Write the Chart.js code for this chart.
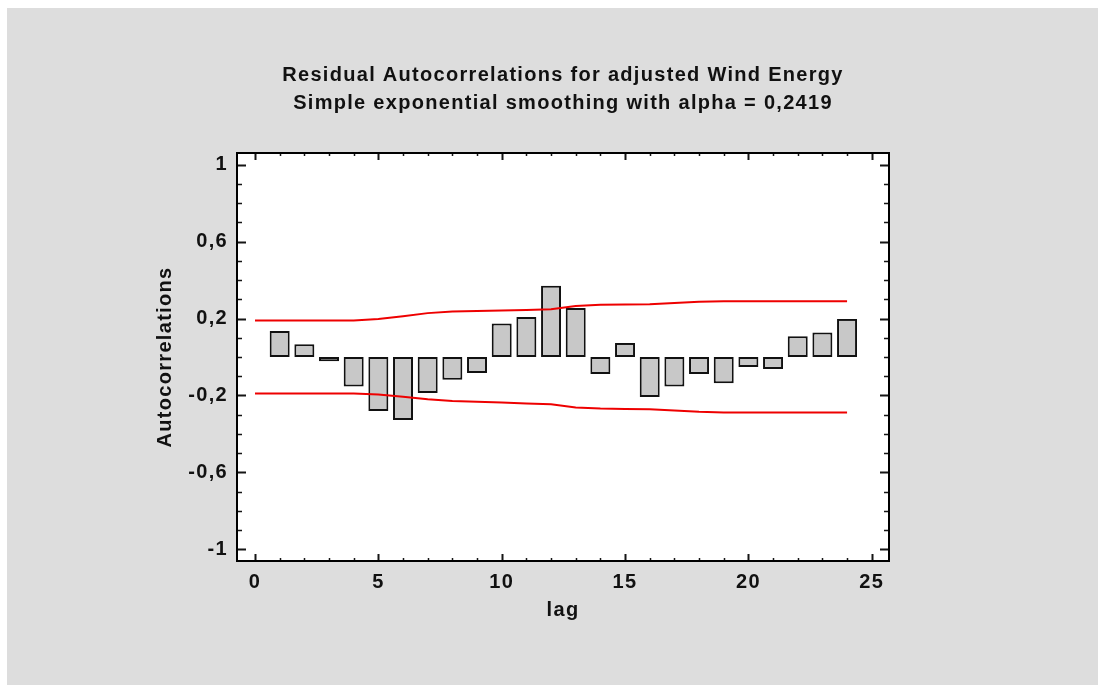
<!DOCTYPE html>
<html>
<head>
<meta charset="utf-8">
<script src="https://cdn.jsdelivr.net/npm/chart.js@4.4.0/dist/chart.umd.min.js"></script>
<style>
    html, body { margin: 0; padding: 0; background: #fff; }
    #panel { position: absolute; left: 7px; top: 8px; width: 1091px; height: 677px; background: #dddddd; }
    #chart { position: absolute; left: 0; top: 0; }
</style>
</head>
<body>
<div id="panel"></div>
<canvas id="chart" width="1105" height="692"></canvas>
<script>
// data
const lags = [1, 2, 3, 4, 5, 6, 7, 8, 9, 10, 11, 12, 13, 14, 15, 16, 17, 18, 19, 20, 21, 22, 23, 24];
const autocorr = [0.135, 0.066, -0.022, -0.153, -0.28, -0.328, -0.187, -0.118, -0.083, 0.174, 0.208, 0.37,
    0.255, -0.088, 0.073, -0.208, -0.153, -0.088, -0.137, -0.052, -0.062, 0.108, 0.127, 0.198];

const limitLags = [0, 1, 2, 3, 4, 5, 6, 7, 8, 9, 10, 11, 12, 13, 14, 15, 16, 17, 18, 19, 20, 21, 22, 23, 24];
const upperLimit = [0.19, 0.19, 0.19, 0.19, 0.19, 0.197, 0.212, 0.228, 0.237, 0.239, 0.241, 0.244, 0.248,
    0.265, 0.272, 0.273, 0.274, 0.281, 0.287, 0.29, 0.29, 0.29, 0.29, 0.29, 0.29];
const lowerLimit = [-0.19, -0.19, -0.19, -0.19, -0.19, -0.195, -0.207, -0.22, -0.228, -0.233, -0.237, -0.242, -0.246,
    -0.262, -0.268, -0.27, -0.271, -0.278, -0.285, -0.288, -0.288, -0.288, -0.288, -0.288, -0.288];

const xTicks = [0, 5, 10, 15, 20, 25];
const yTicks = [-1, -0.6, -0.2, 0.2, 0.6, 1];

const titleLines = ['Residual Autocorrelations for adjusted Wind Energy', 'Simple exponential smoothing with alpha = 0,2419'];

const fontFam = '"Liberation Sans", Arial, sans-serif';
const boldFont = { family: fontFam, size: 20, weight: 'bold' };

const toXY = (xs, ys) => xs.map((v, i) => ({ x: v, y: ys[i] }));

// the original text is a little spaced out
const spacingPlugin = {
    id: 'spacing',
    beforeLayout(chart) { chart.ctx.letterSpacing = '1.3px'; },
    beforeDraw(chart) { chart.ctx.letterSpacing = '1.3px'; }
};

// white plot area, frame and inward ticks
const framePlugin = {
    id: 'frame',
    beforeDraw(chart) {
        const { ctx, chartArea: a } = chart;
        ctx.save();
        ctx.fillStyle = '#fff';
        ctx.fillRect(a.left, a.top, a.right - a.left, a.bottom - a.top);
        ctx.restore();
    },
    afterDatasetsDraw(chart) {
        const { ctx, chartArea: a } = chart;
        const x = chart.scales.x, y = chart.scales.y;
        ctx.save();
        ctx.strokeStyle = '#151515';
        for (let v = -10; v <= 10; v++) {
            const py = Math.round(y.getPixelForValue(v / 10)) + 0.5;
            const major = (v + 10) % 4 === 0;
            const len = major ? 9 : 5;
            ctx.lineWidth = major ? 2 : 1.5;
            ctx.beginPath();
            ctx.moveTo(a.left, py); ctx.lineTo(a.left + len, py);
            ctx.moveTo(a.right, py); ctx.lineTo(a.right - len, py);
            ctx.stroke();
        }
        for (let v = 0; v <= 25; v++) {
            const px = Math.round(x.getPixelForValue(v)) + 0.5;
            const major = v % 5 === 0;
            const len = major ? 7 : 3;
            ctx.lineWidth = major ? 2 : 1.5;
            ctx.beginPath();
            ctx.moveTo(px, a.bottom); ctx.lineTo(px, a.bottom - len);
            ctx.moveTo(px, a.top); ctx.lineTo(px, a.top + len);
            ctx.stroke();
        }
        ctx.lineWidth = 2;
        ctx.strokeStyle = '#000';
        ctx.strokeRect(a.left, a.top, a.right - a.left, a.bottom - a.top);
        ctx.restore();
    }
};

new Chart(document.getElementById('chart'), {
    type: 'bar',
    data: {
        datasets: [{
            type: 'line',
            data: toXY(limitLags, upperLimit),
            borderColor: '#ee0000',
            borderWidth: 2,
            pointRadius: 0,
            tension: 0
        }, {
            type: 'line',
            data: toXY(limitLags, lowerLimit),
            borderColor: '#ee0000',
            borderWidth: 2,
            pointRadius: 0,
            tension: 0
        }, {
            type: 'bar',
            data: toXY(lags, autocorr),
            backgroundColor: '#c8c8c8',
            borderColor: '#111',
            borderWidth: 2,
            borderSkipped: false,
            categoryPercentage: 1,
            barPercentage: 0.81
        }]
    },
    options: {
        responsive: false,
        animation: false,
        layout: { padding: { left: 140, right: 216, top: 0, bottom: 70 } },
        plugins: {
            legend: { display: false },
            tooltip: { enabled: false },
            title: {
                display: true,
                fullSize: false,
                text: titleLines,
                color: '#111',
                font: { ...boldFont, lineHeight: 28 / 20 },
                padding: { top: 61, bottom: 36 }
            }
        },
        scales: {
            x: {
                type: 'linear',
                offset: false,
                min: -0.73,
                max: 25.7,
                afterBuildTicks: s => { s.ticks = xTicks.map(v => ({ value: v })); },
                afterFit: s => { s.height = 61; },
                grid: { display: false, drawTicks: false },
                border: { display: false },
                ticks: {
                    color: '#111',
                    padding: 9,
                    maxRotation: 0,
                    font: boldFont,
                    callback: v => String(v)
                },
                title: {
                    display: true,
                    text: 'lag',
                    color: '#111',
                    font: boldFont,
                    padding: { top: 0, bottom: 0 }
                }
            },
            y: {
                min: -1.06,
                max: 1.06,
                afterBuildTicks: s => { s.ticks = yTicks.map(v => ({ value: v })); },
                afterFit: s => { s.width = 97; },
                grid: { display: false, drawTicks: false },
                border: { display: false },
                ticks: {
                    color: '#111',
                    padding: 9,
                    font: boldFont,
                    callback: v => String(v).replace('.', ',')
                },
                title: {
                    display: true,
                    text: 'Autocorrelations',
                    color: '#111',
                    font: boldFont,
                    padding: { top: 13, bottom: 0 }
                }
            }
        }
    },
    plugins: [spacingPlugin, framePlugin]
});
</script>
</body>
</html>
